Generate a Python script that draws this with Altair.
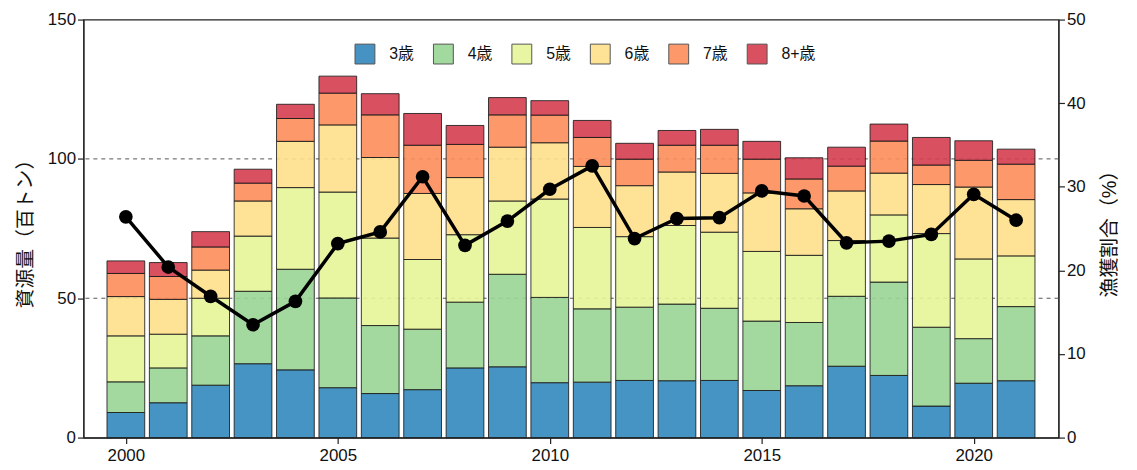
import altair as alt
import pandas as pd

years = list(range(2000, 2022))
ages = ["3歳", "4歳", "5歳", "6歳", "7歳", "8+歳"]
colors = ["#3288bd", "#99d594", "#e6f598", "#fee08b", "#fc8d59", "#d53e4f"]

age3 = [9.0, 12.5, 18.8, 26.5, 24.3, 17.9, 15.8, 17.2, 25.0, 25.4, 19.7, 19.9, 20.5, 20.4, 20.5, 16.9, 18.6, 25.6, 22.3, 11.3, 19.5, 20.4]
age4 = [11.0, 12.5, 17.7, 26.0, 36.1, 32.2, 24.4, 21.7, 23.6, 33.2, 30.6, 26.3, 26.3, 27.5, 25.9, 24.9, 22.7, 25.1, 33.5, 28.3, 16.0, 26.6]
age5 = [16.5, 12.1, 13.5, 19.8, 29.3, 38.0, 31.4, 25.0, 24.2, 26.3, 35.3, 29.2, 25.3, 28.2, 27.3, 25.0, 24.1, 20.0, 24.1, 33.6, 28.6, 18.2]
age6 = [14.1, 12.5, 10.1, 12.6, 16.6, 24.1, 28.9, 23.7, 20.5, 19.3, 20.2, 21.9, 18.3, 19.2, 21.1, 21.0, 16.7, 17.8, 15.0, 17.6, 25.8, 20.2]
age7 = [8.3, 8.2, 8.3, 6.4, 8.2, 11.4, 15.3, 17.3, 11.9, 11.6, 9.9, 10.4, 9.5, 9.6, 10.1, 12.1, 10.7, 8.9, 11.5, 7.0, 9.6, 12.7]
age8 = [4.5, 5.0, 5.5, 5.0, 5.1, 6.1, 7.6, 11.4, 6.8, 6.2, 5.2, 6.1, 5.7, 5.3, 5.7, 6.4, 7.6, 6.8, 6.1, 9.9, 7.0, 5.4]

rate = [26.4, 20.4, 16.9, 13.5, 16.3, 23.2, 24.6, 31.2, 23.0, 25.9, 29.7, 32.5, 23.8, 26.2, 26.3, 29.5, 28.9, 23.3, 23.5, 24.3, 29.1, 26.0]

ref_lines = [50, 100]
x_ticks = [2000, 2005, 2010, 2015, 2020]
left_ticks = [0, 50, 100, 150]
right_ticks = [0, 10, 20, 30, 40, 50]

series = [age3, age4, age5, age6, age7, age8]
rows = []
for i, yr in enumerate(years):
    base = 0.0
    for k, (a, vals) in enumerate(zip(ages, series)):
        v = vals[i]
        rows.append({"year": yr, "age": a, "order": k, "lo": base, "hi": base + v})
        base += v
bars_df = pd.DataFrame(rows)
rate_df = pd.DataFrame({"year": years, "rate": rate})
ref_df = pd.DataFrame({"v": ref_lines})

FONT = "Liberation Sans, Noto Sans CJK JP, sans-serif"

x_scale = alt.Scale(domain=[1999, 2022], nice=False, zero=False)
x_axis = alt.Axis(values=x_ticks, format="d", title=None, labelFontSize=17,
                  tickSize=6, labelPadding=4, labelFlush=False)
yl_scale = alt.Scale(domain=[0, 150], nice=False)
yl_axis = alt.Axis(values=left_ticks, title="資源量（百トン）", titlePadding=12,
                   labelFontSize=17, tickSize=6)
yr_scale = alt.Scale(domain=[0, 50], nice=False)
yr_axis = alt.Axis(values=right_ticks, title="漁獲割合（%）", orient="right",
                   titleAngle=270, titleBaseline="bottom",
                   titlePadding=35, labelFontSize=17, tickSize=6)

rules = alt.Chart(ref_df).mark_rule(strokeDash=[4, 4], color="#555555", strokeWidth=1).encode(
    y=alt.Y("v:Q", scale=yl_scale, axis=yl_axis),
)

bars = alt.Chart(bars_df).transform_calculate(
    x0="datum.year - 0.445", x1="datum.year + 0.445"
).mark_bar(stroke="#1a1a1a", strokeWidth=1, fillOpacity=0.9, strokeOpacity=0.85).encode(
    x=alt.X("x0:Q", scale=x_scale, axis=x_axis),
    x2="x1:Q",
    y=alt.Y("lo:Q", scale=yl_scale, axis=yl_axis),
    y2="hi:Q",
    color=alt.Color("age:N", scale=alt.Scale(domain=ages, range=colors),
                    legend=alt.Legend(title=None, orient="none", legendX=273, legendY=24,
                                      direction="horizontal", symbolType="square",
                                      symbolSize=400, symbolStrokeColor="#444444",
                                      symbolStrokeWidth=1, symbolOpacity=0.9,
                                      labelFontSize=16, labelOffset=14, columnPadding=17,
                                      padding=0, labelFont=FONT)),
    order=alt.Order("order:Q"),
)

line = alt.Chart(rate_df).mark_line(color="black", strokeWidth=3.5).encode(
    x=alt.X("year:Q", scale=x_scale, axis=x_axis),
    y=alt.Y("rate:Q", scale=yr_scale, axis=yr_axis),
)
points = alt.Chart(rate_df).mark_point(filled=True, size=190, color="black", opacity=1).encode(
    x=alt.X("year:Q", scale=x_scale, axis=x_axis),
    y=alt.Y("rate:Q", scale=yr_scale, axis=yr_axis),
)

left = alt.layer(rules, bars)
right = alt.layer(line, points)

chart = alt.layer(left, right).resolve_scale(y="independent").properties(
    width=982, height=421,
    autosize=alt.AutoSizeParams(type="none"),
    padding={"left": 76, "top": 10, "right": 71, "bottom": 31},
).configure_view(
    stroke="#222222", strokeWidth=1.2
).configure_axis(
    domainColor="#222222", tickColor="#222222", labelColor="#111111",
    titleColor="#111111", labelFont=FONT, titleFont=FONT, titleFontSize=20,
    titleFontWeight="normal", grid=False, domainWidth=1.2, tickWidth=1.2,
).configure_legend(labelColor="#111111")

chart.save("out.html", embed_options={"renderer": "svg", "actions": False})
